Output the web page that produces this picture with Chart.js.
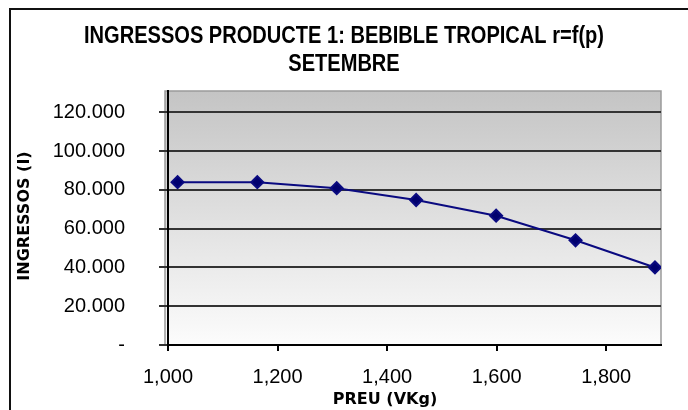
<!DOCTYPE html>
<html>
<head>
<meta charset="utf-8">
<script src="https://cdn.jsdelivr.net/npm/chart.js@4"></script>
<style>
html,body{margin:0;padding:0;background:#fff;}
#wrap{width:688px;height:410px;position:relative;}
</style>
</head>
<body>
<div id="wrap"><canvas id="c" width="688" height="410"></canvas></div>
<script>
const titleLines = ["INGRESSOS PRODUCTE 1: BEBIBLE TROPICAL r=f(p)", "SETEMBRE"];
const xTitle = "PREU (VKg)";
const yTitle = "INGRESSOS (I)";
const prices = [1.0175, 1.163, 1.308, 1.453, 1.599, 1.744, 1.889];
const revenues = [84000, 84000, 80900, 74800, 66700, 54000, 40000];
const xTickValues = [1.0, 1.2, 1.4, 1.6, 1.8];
const yTickValues = [0, 20000, 40000, 60000, 80000, 100000, 120000];

const points = prices.map((p, i) => ({x: p, y: revenues[i]}));

const bgPlugin = {
  id: 'bg',
  beforeDraw(chart) {
    const {ctx, chartArea: a} = chart;
    ctx.save();
    ctx.fillStyle = '#fff';
    ctx.fillRect(0, 0, chart.width, chart.height);
    const g = ctx.createLinearGradient(0, a.top, 0, a.bottom);
    g.addColorStop(0, '#c4c4c4');
    g.addColorStop(1, '#fcfcfc');
    ctx.fillStyle = g;
    ctx.fillRect(a.left - 3, a.top, a.right - a.left + 3, a.bottom - a.top);
    ctx.strokeStyle = '#9a9a9a';
    ctx.lineWidth = 1.5;
    ctx.strokeRect(a.left - 3, a.top, a.right - a.left + 3, a.bottom - a.top);
    ctx.restore();
  },
  afterDraw(chart) {
    const ctx = chart.ctx;
    ctx.save();
    // outer frame
    ctx.strokeStyle = '#111';
    ctx.lineWidth = 2;
    ctx.strokeRect(10, 9, 720, 440);
    // main title (condensed bold)
    ctx.fillStyle = '#000';
    ctx.textAlign = 'center';
    ctx.textBaseline = 'middle';
    ctx.font = "bold 24px 'Liberation Sans', Arial, sans-serif";
    const w0 = ctx.measureText(titleLines[0]).width;
    const sx = 520 / w0;
    const ys = [36, 64.7];
    titleLines.forEach((t, i) => {
      ctx.save();
      ctx.translate(344, ys[i]);
      ctx.scale(sx, 1);
      ctx.fillText(t, 0, 0);
      ctx.restore();
    });
    // axis titles
    ctx.font = "bold 16px 'DejaVu Sans', sans-serif";
    ctx.fillText(xTitle, 385, 400);
    ctx.save();
    ctx.translate(25, 216);
    ctx.rotate(-Math.PI / 2);
    ctx.fillText(yTitle, 0, 0);
    ctx.restore();
    ctx.restore();
  }
};

new Chart(document.getElementById('c'), {
  type: 'scatter',
  data: {
    datasets: [{
      data: points,
      showLine: true,
      borderColor: '#0a0a80',
      backgroundColor: '#00006e',
      borderWidth: 2,
      pointStyle: 'rectRot',
      pointRadius: 6,
      pointHoverRadius: 6,
      tension: 0
    }]
  },
  options: {
    responsive: false,
    animation: false,
    devicePixelRatio: 1,
    layout: {padding: {left: 12, right: 27, top: 91, bottom: 0}},
    plugins: {
      legend: {display: false},
      tooltip: {enabled: false},
      title: {display: false}
    },
    scales: {
      x: {
        type: 'linear',
        min: 1.0,
        max: 1.9,
        afterBuildTicks(scale) { scale.ticks = xTickValues.map(v => ({value: v})); },
        afterFit(scale) { scale.height = 65; },
        grid: {drawOnChartArea: false, drawTicks: true, tickLength: 6, color: '#000', lineWidth: 2},
        border: {display: true, color: '#000', width: 2},
        ticks: {
          color: '#000',
          padding: 14,
          maxRotation: 0,
          font: {family: "'Liberation Sans', Arial, sans-serif", size: 20},
          callback: v => v.toFixed(3).replace('.', ',')
        }
      },
      y: {
        type: 'linear',
        min: 0,
        max: 131000,
        afterBuildTicks(scale) { scale.ticks = yTickValues.map(v => ({value: v})); },
        afterFit(scale) { scale.width = 156; },
        grid: {drawOnChartArea: true, drawTicks: true, tickLength: 9, color: '#333', lineWidth: 2},
        border: {display: true, color: '#000', width: 2},
        ticks: {
          color: '#000',
          padding: 34,
          font: {family: "'Liberation Sans', Arial, sans-serif", size: 20},
          callback: v => v === 0 ? '-' : v.toLocaleString('de-DE')
        }
      }
    }
  },
  plugins: [bgPlugin]
});
</script>
</body>
</html>
